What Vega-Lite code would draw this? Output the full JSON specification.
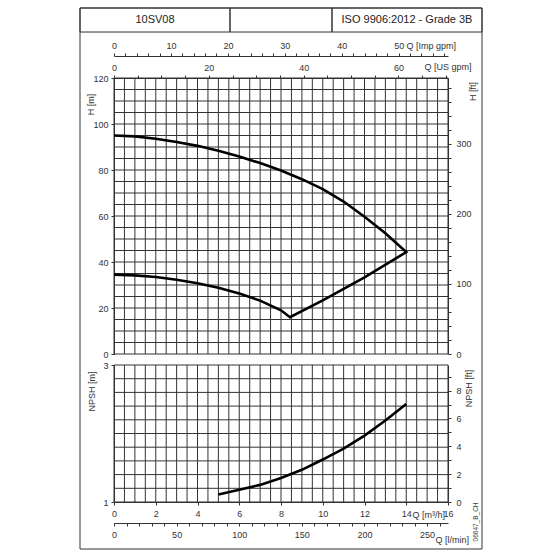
{
  "$schema": "https://vega.github.io/schema/vega-lite/v6.json",
  "width": 334,
  "height": 424,
  "autosize": {"type": "none"},
  "padding": {"left": 114, "top": 78, "right": 112, "bottom": 58},
  "background": "white",
  "config": {
    "view": {"stroke": null},
    "axis": {
      "labelFont": "Liberation Sans", "labelFontSize": 9, "labelColor": "#333",
      "titleFont": "Liberation Sans", "titleFontSize": 9, "titleFontWeight": "normal", "titleColor": "#333",
      "tickColor": "#333", "domainColor": "#333", "tickSize": 3, "tickWidth": 1, "domainWidth": 1,
      "grid": false, "labelOverlap": false, "labelFlush": false, "labelBound": false
    }
  },
  "datasets": {
    "frame": [
      {"x0": 0, "x1": 1, "y0": 0, "y1": 1},
      {"x0": 0, "x1": 0.3731, "y0": 0.9556, "y1": 1},
      {"x0": 0.3731, "x1": 0.6269, "y0": 0.9556, "y1": 1},
      {"x0": 0.6269, "x1": 1, "y0": 0.9556, "y1": 1}
    ],
    "header": [
      {"cx": 0.1866, "cy": 0.9778, "t": "10SV08"},
      {"cx": 0.8134, "cy": 0.9778, "t": "ISO 9906:2012 - Grade 3B"}
    ],
    "code": [{"cx": 0.985, "cy": 0.05, "t": "06647_B_CH"}],
    "qgrid": [{"q":0},{"q":0.5},{"q":1},{"q":1.5},{"q":2},{"q":2.5},{"q":3},{"q":3.5},{"q":4},{"q":4.5},{"q":5},{"q":5.5},{"q":6},{"q":6.5},{"q":7},{"q":7.5},{"q":8},{"q":8.5},{"q":9},{"q":9.5},{"q":10},{"q":10.5},{"q":11},{"q":11.5},{"q":12},{"q":12.5},{"q":13},{"q":13.5},{"q":14},{"q":14.5},{"q":15},{"q":15.5},{"q":16}],
    "hgrid": [{"h":0},{"h":5},{"h":10},{"h":15},{"h":20},{"h":25},{"h":30},{"h":35},{"h":40},{"h":45},{"h":50},{"h":55},{"h":60},{"h":65},{"h":70},{"h":75},{"h":80},{"h":85},{"h":90},{"h":95},{"h":100},{"h":105},{"h":110},{"h":115},{"h":120}],
    "ngrid": [{"n":1},{"n":1.2},{"n":1.4},{"n":1.6},{"n":1.8},{"n":2},{"n":2.2},{"n":2.4},{"n":2.6},{"n":2.8},{"n":3}],
    "curve": [
      {"o":0,"q":0,"h":95.0},{"o":1,"q":1,"h":94.6},{"o":2,"q":2,"h":93.6},{"o":3,"q":3,"h":92.2},{"o":4,"q":4,"h":90.5},
      {"o":5,"q":5,"h":88.4},{"o":6,"q":6,"h":85.9},{"o":7,"q":7,"h":83.0},{"o":8,"q":8,"h":79.8},{"o":9,"q":9,"h":76.0},
      {"o":10,"q":10,"h":71.7},{"o":11,"q":11,"h":66.3},{"o":12,"q":12,"h":59.7},{"o":13,"q":13,"h":52.5},{"o":14,"q":14,"h":44.3},
      {"o":15,"q":12,"h":33.3},{"o":16,"q":10,"h":23.3},{"o":17,"q":8.43,"h":16.0},
      {"o":18,"q":8,"h":19.0},{"o":19,"q":7,"h":23.2},{"o":20,"q":6,"h":26.3},{"o":21,"q":5,"h":28.8},{"o":22,"q":4,"h":30.8},
      {"o":23,"q":3,"h":32.3},{"o":24,"q":2,"h":33.5},{"o":25,"q":1,"h":34.2},{"o":26,"q":0,"h":34.5}
    ],
    "npsh": [
      {"q":5,"n":1.11},{"q":6,"n":1.18},{"q":7,"n":1.25},{"q":8,"n":1.35},{"q":9,"n":1.47},
      {"q":10,"n":1.62},{"q":11,"n":1.78},{"q":12,"n":1.97},{"q":13,"n":2.19},{"q":14,"n":2.43}
    ],
    "one": [{"k": 0}]
  },
  "resolve": {"scale": {"x": "independent", "y": "independent"}, "axis": {"x": "independent", "y": "independent"}},
  "layer": [
    {
      "data": {"name": "frame"},
      "mark": {"type": "rect", "fill": "transparent", "stroke": "#333", "strokeWidth": 1},
      "encoding": {
        "x": {"field": "x0", "type": "quantitative", "scale": {"domain": [0, 1], "range": [-34, 368], "nice": false, "zero": false}, "axis": null},
        "x2": {"field": "x1"},
        "y": {"field": "y0", "type": "quantitative", "scale": {"domain": [0, 1], "range": [471, -70], "nice": false, "zero": false}, "axis": null},
        "y2": {"field": "y1"}
      }
    },
    {
      "data": {"name": "header"},
      "mark": {"type": "text", "font": "Liberation Sans", "fontSize": 11, "color": "#222", "align": "center", "baseline": "middle"},
      "encoding": {
        "x": {"field": "cx", "type": "quantitative", "scale": {"domain": [0, 1], "range": [-34, 368], "nice": false, "zero": false}, "axis": null},
        "y": {"field": "cy", "type": "quantitative", "scale": {"domain": [0, 1], "range": [471, -70], "nice": false, "zero": false}, "axis": null},
        "text": {"field": "t"}
      }
    },
    {
      "data": {"name": "code"},
      "mark": {"type": "text", "font": "Liberation Sans", "fontSize": 6.5, "color": "#444", "align": "center", "baseline": "middle", "angle": 270},
      "encoding": {
        "x": {"field": "cx", "type": "quantitative", "scale": {"domain": [0, 1], "range": [-34, 368], "nice": false, "zero": false}, "axis": null},
        "y": {"field": "cy", "type": "quantitative", "scale": {"domain": [0, 1], "range": [471, -70], "nice": false, "zero": false}, "axis": null},
        "text": {"field": "t"}
      }
    },
    {
      "data": {"name": "qgrid"},
      "mark": {"type": "rule", "color": "#333", "strokeWidth": 1},
      "encoding": {
        "x": {"field": "q", "type": "quantitative", "scale": {"domain": [0, 16], "range": [0, 334], "nice": false, "zero": false},
          "axis": {"orient": "bottom", "values": [0,2,4,6,8,10,12,14,16], "format": "d", "labelPadding": 4,
            "title": "Q [m³/h]", "titleX": 298, "titleY": 12, "titleAlign": "left", "titleBaseline": "middle", "titleAngle": 0}},
        "y": {"datum": 0, "type": "quantitative", "scale": {"domain": [0, 120], "range": [276, 0], "nice": false}, "axis": null},
        "y2": {"datum": 120}
      }
    },
    {
      "data": {"name": "hgrid"},
      "mark": {"type": "rule", "color": "#333", "strokeWidth": 1},
      "encoding": {
        "y": {"field": "h", "type": "quantitative", "scale": {"domain": [0, 120], "range": [276, 0], "nice": false},
          "axis": {"orient": "left", "values": [0,20,40,60,80,100,120], "format": "d", "labelPadding": 3,
            "title": "H [m]", "titleX": -24, "titleY": 26, "titleAngle": 270, "titleAlign": "center", "titleBaseline": "middle"}},
        "x": {"datum": 0, "type": "quantitative", "scale": {"domain": [0, 16], "range": [0, 334], "nice": false, "zero": false}, "axis": null},
        "x2": {"datum": 16}
      }
    },
    {
      "data": {"name": "qgrid"},
      "mark": {"type": "rule", "color": "#333", "strokeWidth": 1},
      "encoding": {
        "x": {"field": "q", "type": "quantitative", "scale": {"domain": [0, 16], "range": [0, 334], "nice": false, "zero": false}, "axis": null},
        "y": {"datum": 1, "type": "quantitative", "scale": {"domain": [1, 3], "range": [424, 287], "nice": false, "zero": false}, "axis": null},
        "y2": {"datum": 3}
      }
    },
    {
      "data": {"name": "ngrid"},
      "mark": {"type": "rule", "color": "#333", "strokeWidth": 1},
      "encoding": {
        "y": {"field": "n", "type": "quantitative", "scale": {"domain": [1, 3], "range": [424, 287], "nice": false, "zero": false},
          "axis": {"orient": "left", "values": [1,2,3], "format": "d", "labelPadding": 3,
            "title": "NPSH [m]", "titleX": -23, "titleY": 313, "titleAngle": 270, "titleAlign": "center", "titleBaseline": "middle"}},
        "x": {"datum": 0, "type": "quantitative", "scale": {"domain": [0, 16], "range": [0, 334], "nice": false, "zero": false}, "axis": null},
        "x2": {"datum": 16}
      }
    },
    {
      "data": {"name": "curve"},
      "mark": {"type": "line", "color": "#000", "strokeWidth": 2.6, "strokeJoin": "miter"},
      "encoding": {
        "x": {"field": "q", "type": "quantitative", "scale": {"domain": [0, 16], "range": [0, 334], "nice": false, "zero": false}, "axis": null},
        "y": {"field": "h", "type": "quantitative", "scale": {"domain": [0, 120], "range": [276, 0], "nice": false}, "axis": null},
        "order": {"field": "o", "type": "quantitative"}
      }
    },
    {
      "data": {"name": "npsh"},
      "mark": {"type": "line", "color": "#000", "strokeWidth": 2.6},
      "encoding": {
        "x": {"field": "q", "type": "quantitative", "scale": {"domain": [0, 16], "range": [0, 334], "nice": false, "zero": false}, "axis": null},
        "y": {"field": "n", "type": "quantitative", "scale": {"domain": [1, 3], "range": [424, 287], "nice": false, "zero": false}, "axis": null}
      }
    },
    {
      "data": {"name": "one"},
      "mark": {"type": "point", "opacity": 0},
      "encoding": {
        "x": {"datum": 0, "type": "quantitative", "scale": {"domain": [0, 58.658], "range": [0, 334], "nice": false},
          "axis": {"orient": "top", "offset": 22, "values": [0,2,4,6,8,10,12,14,16,18,20,22,24,26,28,30,32,34,36,38,40,42,44,46,48,50,52,54,56,58],
            "labelExpr": "datum.value % 10 === 0 ? datum.label : ''", "labelPadding": 3,
            "title": "Q [Imp gpm]", "titleX": 292, "titleY": -11, "titleAlign": "left", "titleBaseline": "middle", "titleAngle": 0}},
        "y": {"datum": 0, "type": "quantitative", "scale": {"domain": [0, 393.7], "range": [276, 0], "nice": false},
          "axis": {"orient": "right", "values": [0,20,40,60,80,100,120,140,160,180,200,220,240,260,280,300,320,340,360,380],
            "labelExpr": "datum.value % 100 === 0 ? datum.label : ''", "labelPadding": 5,
            "title": "H [ft]", "titleX": 24, "titleY": 13, "titleAngle": 270, "titleAlign": "center", "titleBaseline": "middle"}}
      }
    },
    {
      "data": {"name": "one"},
      "mark": {"type": "point", "opacity": 0},
      "encoding": {
        "x": {"datum": 0, "type": "quantitative", "scale": {"domain": [0, 70.446], "range": [0, 334], "nice": false},
          "axis": {"orient": "top", "values": [0,5,10,15,20,25,30,35,40,45,50,55,60,65,70],
            "labelExpr": "datum.value % 20 === 0 ? datum.label : ''", "labelPadding": 3,
            "title": "Q [US gpm]", "titleX": 310, "titleY": -12, "titleAlign": "left", "titleBaseline": "middle", "titleAngle": 0}},
        "y": {"datum": 0, "type": "quantitative", "scale": {"domain": [0, 9.843], "range": [424, 287], "nice": false},
          "axis": {"orient": "right", "values": [0,0.5,1,1.5,2,2.5,3,3.5,4,4.5,5,5.5,6,6.5,7,7.5,8,8.5,9,9.5],
            "format": "d", "labelExpr": "datum.value % 2 === 0 ? format(datum.value, 'd') : ''", "labelPadding": 5,
            "title": "NPSH [ft]", "titleX": 20, "titleY": 310, "titleAngle": 270, "titleAlign": "center", "titleBaseline": "middle"}}
      }
    },
    {
      "data": {"name": "one"},
      "mark": {"type": "point", "opacity": 0},
      "encoding": {
        "x": {"datum": 0, "type": "quantitative", "scale": {"domain": [0, 266.667], "range": [0, 334], "nice": false},
          "axis": {"orient": "bottom", "offset": 21, "values": [0,10,20,30,40,50,60,70,80,90,100,110,120,130,140,150,160,170,180,190,200,210,220,230,240,250,260],
            "labelExpr": "datum.value % 50 === 0 ? datum.label : ''", "labelPadding": 4,
            "title": "Q [l/min]", "titleX": 321, "titleY": 16, "titleAlign": "left", "titleBaseline": "middle", "titleAngle": 0}},
        "y": {"datum": 0, "type": "quantitative", "scale": {"domain": [0, 1], "range": [276, 0], "nice": false}, "axis": null}
      }
    }
  ]
}
